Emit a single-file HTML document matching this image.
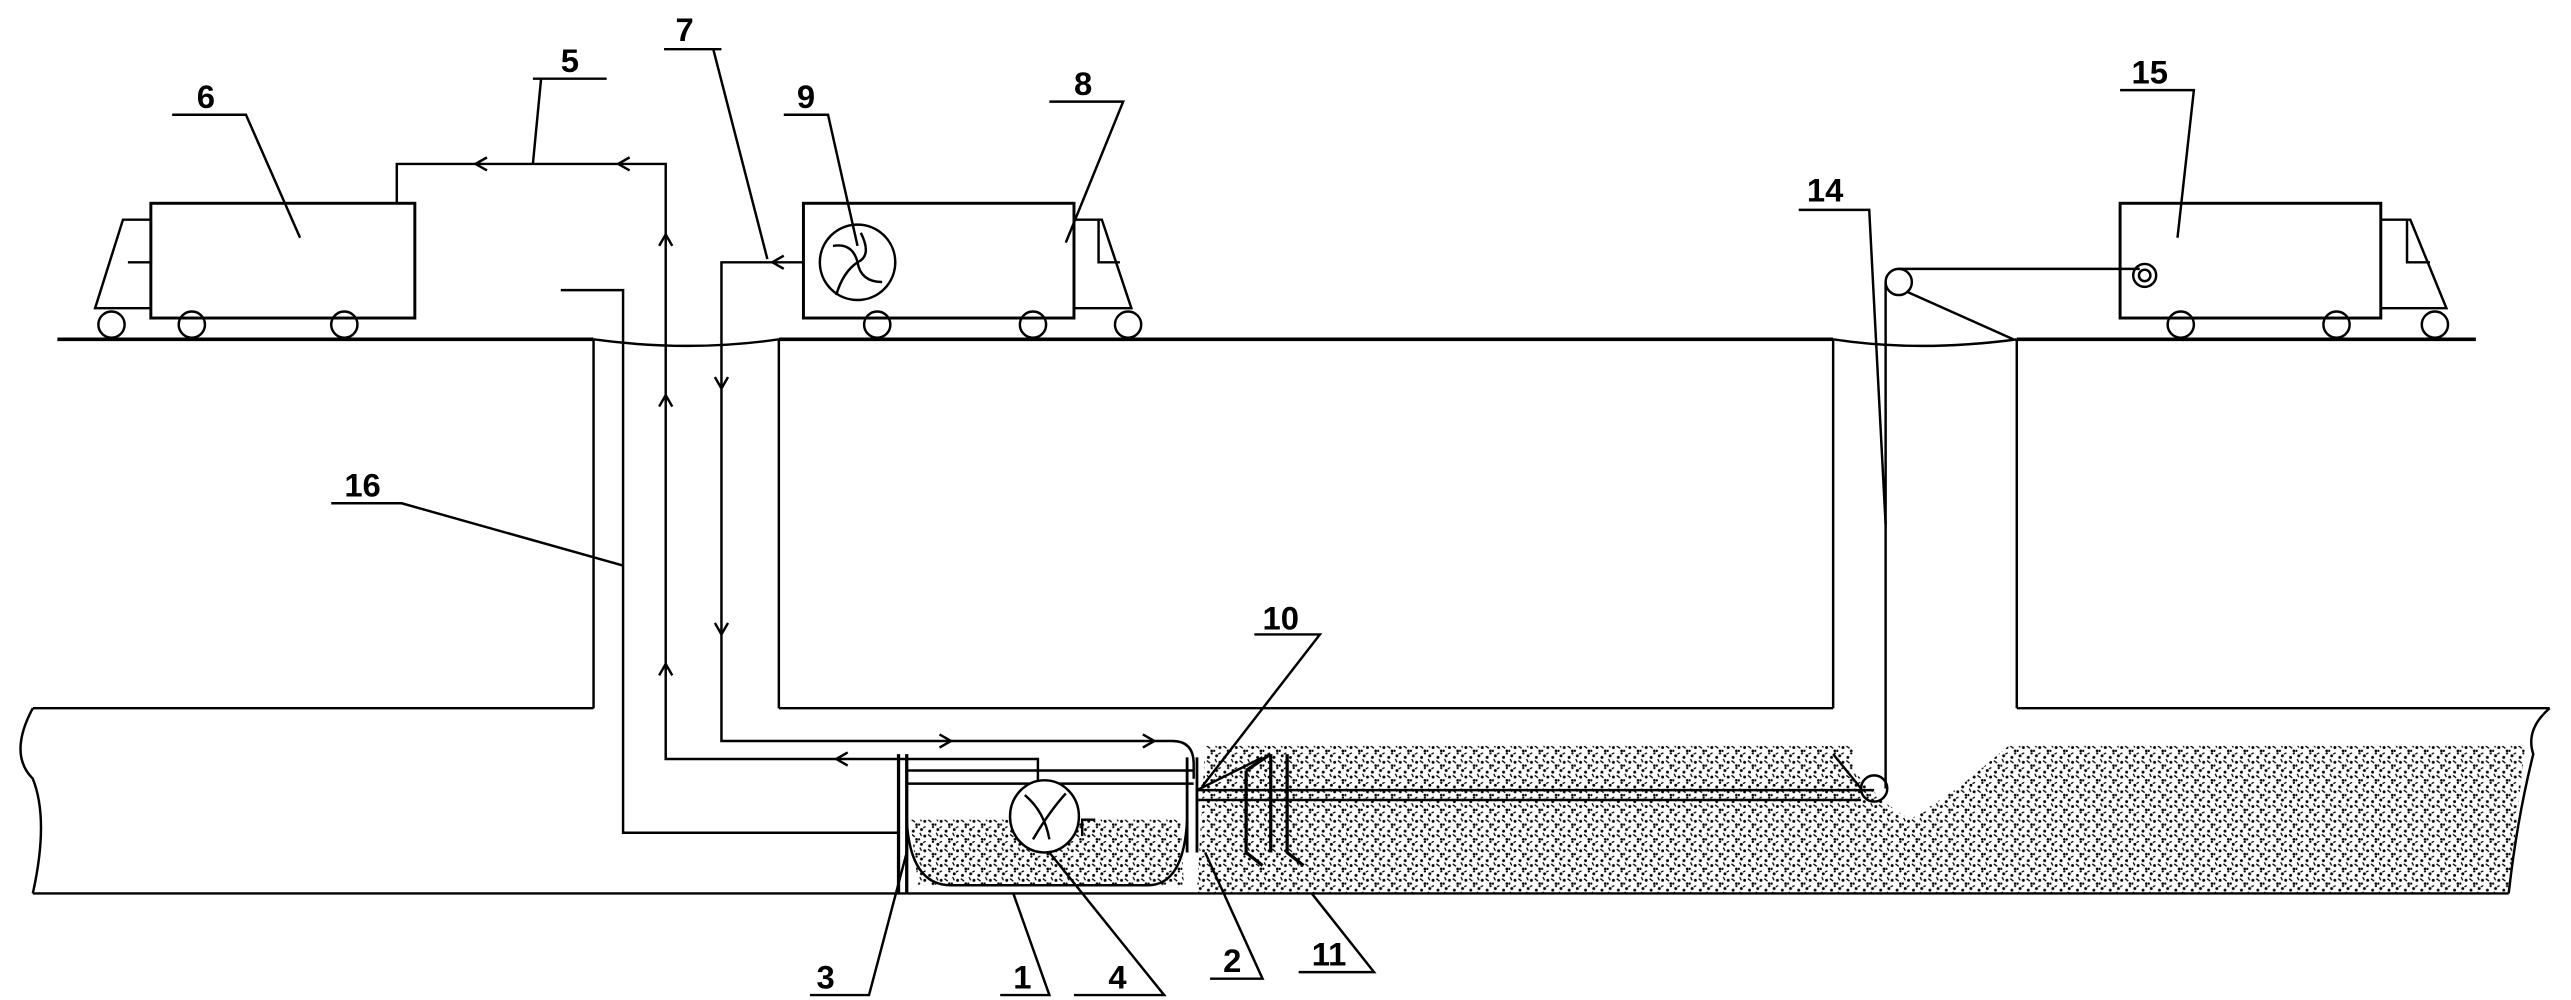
<!DOCTYPE html>
<html><head><meta charset="utf-8"><style>
html,body{margin:0;padding:0;background:#fff;}
svg{display:block}
text{font-family:"Liberation Sans Narrow","Liberation Sans",sans-serif;font-weight:bold;font-size:20px;fill:#000}
</style></head><body>
<svg width="2571" height="1000" viewBox="0 0 1568 610" preserveAspectRatio="none" xmlns="http://www.w3.org/2000/svg">
<defs>
<pattern id="sand" width="10" height="9" patternUnits="userSpaceOnUse">
<rect width="10" height="9" fill="#fff"/>
<circle cx="2" cy="2" r="0.9" fill="#000"/><circle cx="7" cy="3" r="0.9" fill="#000"/>
<circle cx="4" cy="6" r="0.9" fill="#000"/><circle cx="9" cy="8" r="0.8" fill="#000"/>
<circle cx="9" cy="0.5" r="0.7" fill="#000"/><circle cx="0.5" cy="8" r="0.7" fill="#000"/>
<path d="M6 5 l2 1.5 M1 4 l1 2 M3 1 l1.5 -0.8" stroke="#000" stroke-width="0.8"/>
</pattern>
</defs>
<g fill="none" stroke="#000" stroke-width="1.5">
<!-- sand -->
<path d="M735 455 L1130 455 L1130 470 L1150 490 L1165 500 L1195 480 L1225 455 L1540 455 L1530 545 L730 545 Z" fill="url(#sand)" stroke="none"/>
<path d="M555 500 L720 500 L722 540 L560 540 Z" fill="url(#sand)" stroke="none"/>
<!-- ground -->
<path d="M35 207 H362 M475 207 H1118 M1230 207 H1510" stroke-width="2.2"/>
<path d="M362 207 Q420 215 475 207" />
<path d="M1118 207 Q1170 215 1230 207" />
<!-- shafts -->
<path d="M362 207 V432 M475 207 V432 M1118 207 V432 M1230 207 V432"/>
<!-- tunnel -->
<path d="M20 432 H362 M475 432 H1118 M1230 432 H1555"/>
<path d="M20 545 H1530"/>
<path d="M20 432 Q5 460 20 475 Q30 500 20 545"/>
<path d="M1555 432 Q1540 445 1545 460 Q1535 500 1530 545"/>
<!-- truck 6 -->
<rect x="92" y="124" width="161" height="70" stroke-width="1.8"/>
<path d="M92 134 H75 L58 188 H92 M92 134 V160 H78"/>
<circle cx="68" cy="198" r="8"/><circle cx="117" cy="198" r="8"/><circle cx="210" cy="198" r="8"/>
<!-- truck 8 -->
<rect x="490" y="124" width="165" height="70" stroke-width="1.8"/>
<path d="M655 134 H672 L690 188 H655 M670 134 V160 H683"/>
<circle cx="535" cy="198" r="8"/><circle cx="630" cy="198" r="8"/><circle cx="688" cy="198" r="8"/>
<ellipse cx="523" cy="160" rx="23" ry="23"/>
<path d="M508 150 Q520 148 523 160 Q525 172 538 172 M525 142 Q532 156 523 160 Q514 166 510 180"/>
<!-- truck 15 -->
<rect x="1293" y="124" width="159" height="70" stroke-width="1.8"/>
<path d="M1452 134 H1470 L1492 188 H1452 M1468 134 V160 H1482"/>
<circle cx="1330" cy="198" r="8"/><circle cx="1425" cy="198" r="8"/><circle cx="1485" cy="198" r="8"/>
<circle cx="1308" cy="168" r="7"/><circle cx="1308" cy="168" r="3.5"/>
<!-- pipe 5 -->
<path d="M242 124 V100 H406 V463 H633 V478"/>
<path d="M297 96 L290 100 L297 104 M384 96 L377 100 L384 104 M402 150 L406 143 L410 150 M402 248 L406 241 L410 248 M402 412 L406 405 L410 412 M517 459 L510 463 L517 467"/>
<!-- pipe 7 -->
<path d="M490 160 H440 V452 H715 Q728 452 728 466 V475"/>
<path d="M478 156 L471 160 L478 164 M436 230 L440 237 L444 230 M436 380 L440 387 L444 380 M573 448 L580 452 L573 456 M697 448 L704 452 L697 456"/>
<!-- line 16 -->
<path d="M342 177 H380 V508 H548"/>
<!-- tank -->
<path d="M548 460 V545 M553 460 V545" stroke-width="2"/>
<path d="M553 470 H728 M553 478 H728"/>
<path d="M553 500 Q555 540 580 540 H700 Q722 540 724 500"/>
<path d="M724 462 V520 M730 462 V520" stroke-width="1.7"/>
<ellipse cx="637" cy="498" rx="21" ry="22" fill="#fff"/>
<path d="M625 485 Q637 495 640 512 M650 484 Q640 495 630 512"/>
<path d="M660 510 V500 H668"/>
<!-- cable -->
<path d="M730 482 H1143 M730 488 H1135"/>
<circle cx="1143" cy="481" r="8"/>
<path d="M1150 481 V172 M1135 481 L1118 460"/>
<circle cx="1158" cy="172" r="8"/>
<path d="M1158 164 H1305 M1163 178 L1228 207"/>
<!-- anchors 11 -->
<path d="M760 470 V520 L770 528 M775 460 L760 470 M785 460 V520 L795 528 M775 460 V520" stroke-width="2"/>
<path d="M730 482 L770 462"/>
<!-- leaders -->
<path d="M105 70 H150 L183 145"/>
<path d="M325 48 H370 M330 48 L325 100"/>
<path d="M405 30 H440 M435 30 L468 158"/>
<path d="M478 70 H505 L523 150"/>
<path d="M640 62 H685 L650 148"/>
<path d="M1097 128 H1140 L1150 320"/>
<path d="M1293 55 H1338 L1328 145"/>
<path d="M202 307 H245 L380 345"/>
<path d="M765 387 H805 L733 480"/>
<path d="M494 607 H530 L553 520"/>
<path d="M610 607 H640 L618 545"/>
<path d="M655 607 H710 L640 520"/>
<path d="M738 597 H770 L735 520"/>
<path d="M792 593 H838 L800 545"/>
</g>
<g>
<text x="120" y="66">6</text>
<text x="342" y="44">5</text>
<text x="412" y="25">7</text>
<text x="486" y="66">9</text>
<text x="655" y="58">8</text>
<text x="1300" y="51">15</text>
<text x="1102" y="123">14</text>
<text x="210" y="303">16</text>
<text x="770" y="384">10</text>
<text x="498" y="603">3</text>
<text x="618" y="603">1</text>
<text x="676" y="603">4</text>
<text x="746" y="593">2</text>
<text x="800" y="589">11</text>
</g>
</svg>
</body></html>
